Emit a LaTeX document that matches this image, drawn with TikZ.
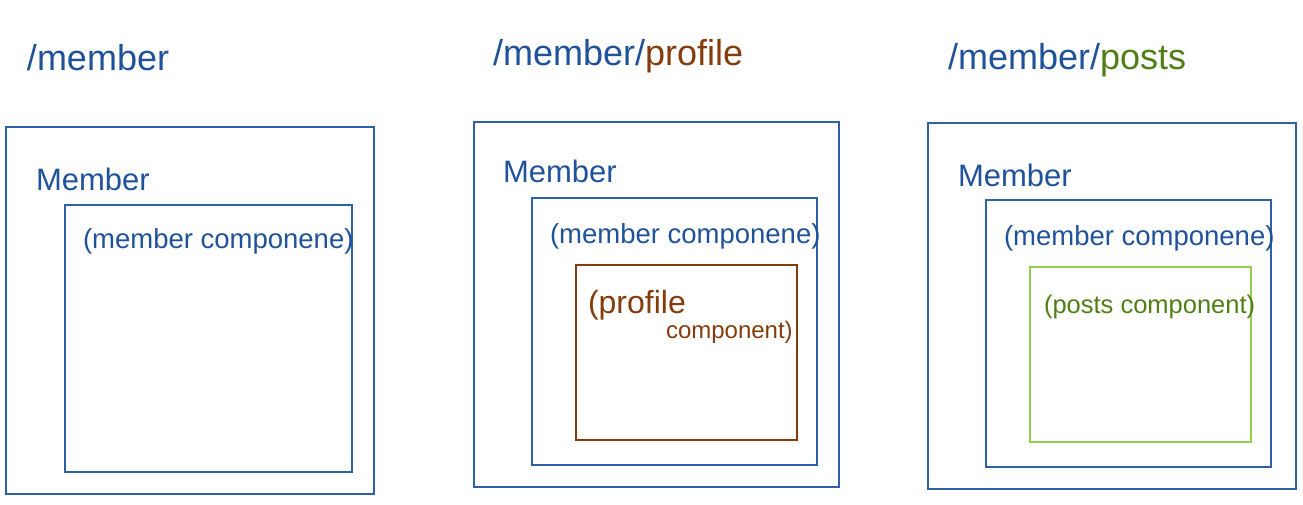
\documentclass[tikz,border=0pt]{standalone}
\usepackage{fontspec}
\setmainfont{Liberation Sans}
\definecolor{inkblue}{HTML}{1F5299}
\definecolor{boxblue}{HTML}{2F62A5}
\definecolor{inkbrown}{HTML}{843C0C}
\definecolor{inkgreen}{HTML}{4F7F14}
\definecolor{boxgreen}{HTML}{92D050}
\begin{document}
\begin{tikzpicture}[x=1pt,y=-1pt,
  frame/.style={draw=#1,line width=1.3pt,inner sep=0pt,outer sep=0pt,anchor=north west},
  label/.style={inner sep=0pt,outer sep=0pt,anchor=base west,text=#1},
  title/.style={label=inkblue,font=\fontsize{36}{40}\selectfont},
  owner/.style={label=inkblue,font=\fontsize{31}{34}\selectfont},
  comp/.style={label=#1,font=\fontsize{27.5}{30}\selectfont}]
\useasboundingbox (0,0) rectangle (1303,505);

% --- route /member ---
\node[title] (t1) at (27,71) {/member};
\node[frame=boxblue,minimum width=368pt,minimum height=367pt] (o1) at (6,127) {};
\node[owner] (m1) at (36,190) {Member};
\node[frame=boxblue,minimum width=287pt,minimum height=267pt] (i1) at (65,205) {};
\node[comp=inkblue] (c1) at (83,248) {(member componene)};

% --- route /member/profile ---
\node[title] (t2) at (493,66) {/member/{\color{inkbrown}profile}};
\node[frame=boxblue,minimum width=365pt,minimum height=365pt] (o2) at (474,122) {};
\node[owner] (m2) at (503,183) {Member};
\node[frame=boxblue,minimum width=285pt,minimum height=267pt] (i2) at (532,198) {};
\node[comp=inkblue] (c2) at (550,243) {(member componene)};
\node[frame=inkbrown,minimum width=221pt,minimum height=175pt] (p2) at (576,265) {};
\node[comp=inkbrown,font=\fontsize{32}{35}\selectfont] (pa) at (588,313) {(profile};
\node[comp=inkbrown,font=\fontsize{24}{27}\selectfont] (pb) at (666,338) {component)};

% --- route /member/posts ---
\node[title] (t3) at (948,70) {/member/{\color{inkgreen}posts}};
\node[frame=boxblue,minimum width=368pt,minimum height=366pt] (o3) at (928,123) {};
\node[owner] (m3) at (958,187) {Member};
\node[frame=boxblue,minimum width=285pt,minimum height=267pt] (i3) at (986,200) {};
\node[comp=inkblue] (c3) at (1004,245) {(member componene)};
\node[frame=boxgreen,minimum width=221pt,minimum height=175pt] (g3) at (1030,267) {};
\node[comp=inkgreen,font=\fontsize{25.5}{28}\selectfont] (ga) at (1044,313) {(posts component)};
\end{tikzpicture}
\end{document}
